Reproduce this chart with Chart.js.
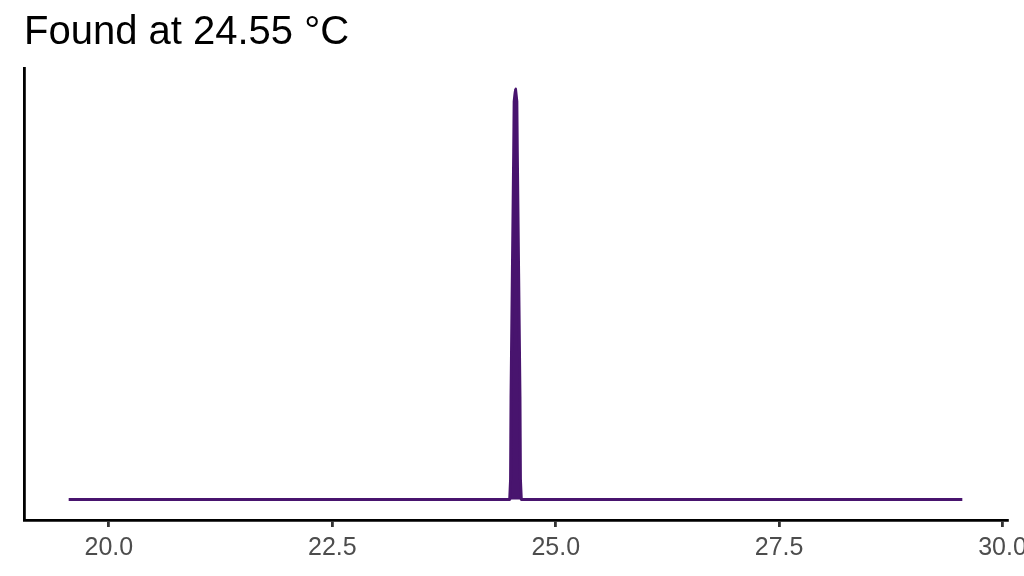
<!DOCTYPE html>
<html>
<head>
<meta charset="utf-8">
<script src="https://cdn.jsdelivr.net/npm/chart.js@4.4.1/dist/chart.umd.min.js"></script>
<style>
  html, body { margin: 0; padding: 0; background: #ffffff; overflow: hidden; }
  #wrap { position: absolute; left: 0; top: 0; width: 1060px; height: 576px; }
</style>
</head>
<body>
<div id="wrap"><canvas id="c"></canvas></div>
<script>
// ---- data ----
const titleText = "Found at 24.55 °C";
const temperatures = [19.55, 24.485, 24.495, 24.50, 24.515, 24.53, 24.535, 24.55,
                      24.565, 24.57, 24.585, 24.60, 24.605, 24.615, 29.55];
const signal =       [0,     0,      0.05,   0.25,  0.55,   0.85,  0.97,   1.0,
                      0.97,   0.85,  0.55,   0.25,  0.05,   0,      0];
const xTickValues = [20, 22.5, 25, 27.5, 30];
const xTickLabels = ["20.0", "22.5", "25.0", "27.5", "30.0"];
const xRange = [19.05, 30.05];
const yRange = [-0.05, 1.05];

const points = temperatures.map((t, i) => ({ x: t, y: signal[i] }));
const lineColor = "#48146e";

new Chart(document.getElementById('c'), {
  type: 'line',
  data: {
    datasets: [{
      data: points,
      borderColor: lineColor,
      backgroundColor: lineColor,
      borderWidth: 3,
      pointRadius: 0,
      tension: 0.001,
      fill: { value: 0 },
      borderJoinStyle: 'round',
      borderCapStyle: 'butt'
    }]
  },
  options: {
    responsive: true,
    maintainAspectRatio: false,
    animation: false,
    layout: { padding: { left: 24, right: 53, top: 0, bottom: 0 } },
    plugins: {
      legend: { display: false },
      tooltip: { enabled: false },
      filler: { propagate: false },
      title: {
        display: true,
        text: titleText,
        align: 'start',
        color: '#000000',
        font: { family: "'Liberation Sans', Arial, sans-serif", size: 40, weight: 'normal', lineHeight: 1.2 },
        padding: { top: 9, bottom: 11.5 }
      }
    },
    scales: {
      x: {
        type: 'linear',
        min: xRange[0],
        max: xRange[1],
        afterBuildTicks: (scale) => { scale.ticks = xTickValues.map(v => ({ value: v })); },
        afterFit: (scale) => { scale.height = 56; },
        grid: {
          display: true,
          drawOnChartArea: false,
          drawTicks: true,
          tickLength: 7,
          color: '#333333',
          lineWidth: 2.8
        },
        border: { display: true, color: '#000000', width: 2.8 },
        ticks: {
          color: '#4d4d4d',
          padding: 6,
          maxRotation: 0,
          autoSkip: false,
          font: { family: "'Liberation Sans', Arial, sans-serif", size: 25 },
          callback: (value) => {
            const i = xTickValues.indexOf(value);
            return i >= 0 ? xTickLabels[i] : '';
          }
        }
      },
      y: {
        type: 'linear',
        min: yRange[0],
        max: yRange[1],
        afterFit: (scale) => { scale.width = 0; },
        grid: { display: false, drawTicks: false },
        border: { display: true, color: '#000000', width: 2.8 },
        ticks: { display: false }
      }
    }
  }
});
</script>
</body>
</html>
